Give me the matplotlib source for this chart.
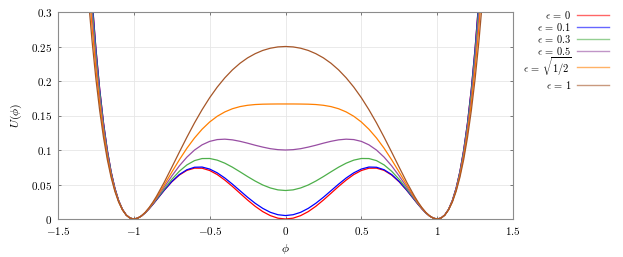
import numpy as np
import matplotlib
matplotlib.use("Agg")
import matplotlib.pyplot as plt
from matplotlib.lines import Line2D
from matplotlib.ticker import FuncFormatter

plt.rcParams['mathtext.fontset'] = 'cm'
plt.rcParams['font.family'] = 'serif'
plt.rcParams['font.serif'] = ['DejaVu Serif']

# sample positions along phi (denser near the minima / steep walls)
phi = [-1.3, -1.275, -1.25, -1.225, -1.2, -1.175, -1.15, -1.125, -1.1, -1.075, -1.05, -1.025, -1.0,
       -0.975, -0.95, -0.925, -0.9, -0.875, -0.85, -0.8, -0.75, -0.7, -0.65, -0.6, -0.55, -0.5, -0.45,
       -0.4, -0.35, -0.3, -0.25, -0.2, -0.15, -0.1, -0.05,
       0.0,
       0.05, 0.1, 0.15, 0.2, 0.25, 0.3, 0.35, 0.4, 0.45, 0.5, 0.55, 0.6, 0.65, 0.7, 0.75, 0.8, 0.85,
       0.875, 0.9, 0.925, 0.95, 0.975, 1.0, 1.025, 1.05, 1.075, 1.1, 1.125, 1.15, 1.175, 1.2, 1.225,
       1.25, 1.275, 1.3]

# U(phi), one list per epsilon
u_eps0 = [0.4023, 0.3181, 0.2472, 0.1880, 0.1394, 0.1000, 0.0688, 0.0446, 0.0267, 0.0140, 0.0058, 0.0013, 0.0000,
          0.0012, 0.0043, 0.0089, 0.0146, 0.0210, 0.0278, 0.0415, 0.0538, 0.0637, 0.0705, 0.0737, 0.0736, 0.0703,
          0.0644, 0.0564, 0.0472, 0.0373, 0.0275, 0.0184, 0.0107, 0.0049, 0.0012,
          0.0000,
          0.0012, 0.0049, 0.0107, 0.0184, 0.0275, 0.0373, 0.0472, 0.0564, 0.0644, 0.0703, 0.0736, 0.0737, 0.0705,
          0.0637, 0.0538, 0.0415, 0.0278, 0.0210, 0.0146, 0.0089, 0.0043, 0.0012, 0.0000, 0.0013, 0.0058, 0.0140,
          0.0267, 0.0446, 0.0688, 0.1000, 0.1394, 0.1880, 0.2472, 0.3181, 0.4023]
u_eps01 = [0.4007, 0.3169, 0.2463, 0.1874, 0.1390, 0.0997, 0.0686, 0.0446, 0.0266, 0.0140, 0.0058, 0.0013, 0.0000,
           0.0012, 0.0043, 0.0089, 0.0147, 0.0211, 0.0279, 0.0417, 0.0542, 0.0644, 0.0714, 0.0750, 0.0753, 0.0724,
           0.0669, 0.0594, 0.0505, 0.0410, 0.0315, 0.0228, 0.0154, 0.0097, 0.0062,
           0.0050,
           0.0062, 0.0097, 0.0154, 0.0228, 0.0315, 0.0410, 0.0505, 0.0594, 0.0669, 0.0724, 0.0753, 0.0750, 0.0714,
           0.0644, 0.0542, 0.0417, 0.0279, 0.0211, 0.0147, 0.0089, 0.0043, 0.0012, 0.0000, 0.0013, 0.0058, 0.0140,
           0.0266, 0.0446, 0.0686, 0.0997, 0.1390, 0.1874, 0.2463, 0.3169, 0.4007]
u_eps03 = [0.3887, 0.3080, 0.2398, 0.1829, 0.1359, 0.0977, 0.0674, 0.0439, 0.0263, 0.0138, 0.0057, 0.0013, 0.0000,
           0.0012, 0.0043, 0.0090, 0.0149, 0.0216, 0.0287, 0.0434, 0.0573, 0.0692, 0.0784, 0.0846, 0.0876, 0.0877,
           0.0853, 0.0809, 0.0751, 0.0684, 0.0615, 0.0550, 0.0493, 0.0450, 0.0422,
           0.0413,
           0.0422, 0.0450, 0.0493, 0.0550, 0.0615, 0.0684, 0.0751, 0.0809, 0.0853, 0.0877, 0.0876, 0.0846, 0.0784,
           0.0692, 0.0573, 0.0434, 0.0287, 0.0216, 0.0149, 0.0090, 0.0043, 0.0012, 0.0000, 0.0013, 0.0057, 0.0138,
           0.0263, 0.0439, 0.0674, 0.0977, 0.1359, 0.1829, 0.2398, 0.3080, 0.3887]
u_eps05 = [0.3695, 0.2937, 0.2294, 0.1755, 0.1309, 0.0945, 0.0654, 0.0428, 0.0258, 0.0136, 0.0057, 0.0013, 0.0000,
           0.0012, 0.0044, 0.0092, 0.0153, 0.0223, 0.0300, 0.0461, 0.0622, 0.0770, 0.0897, 0.0999, 0.1075, 0.1125,
           0.1151, 0.1157, 0.1147, 0.1126, 0.1099, 0.1069, 0.1042, 0.1019, 0.1005,
           0.1000,
           0.1005, 0.1019, 0.1042, 0.1069, 0.1099, 0.1126, 0.1147, 0.1157, 0.1151, 0.1125, 0.1075, 0.0999, 0.0897,
           0.0770, 0.0622, 0.0461, 0.0300, 0.0223, 0.0153, 0.0092, 0.0044, 0.0012, 0.0000, 0.0013, 0.0057, 0.0136,
           0.0258, 0.0428, 0.0654, 0.0945, 0.1309, 0.1755, 0.2294, 0.2937, 0.3695]
u_epssq = [0.3476, 0.2773, 0.2175, 0.1671, 0.1252, 0.0908, 0.0632, 0.0415, 0.0251, 0.0134, 0.0056, 0.0013, 0.0000,
           0.0012, 0.0044, 0.0094, 0.0158, 0.0232, 0.0314, 0.0492, 0.0678, 0.0858, 0.1026, 0.1174, 0.1301, 0.1406,
           0.1489, 0.1552, 0.1598, 0.1629, 0.1648, 0.1659, 0.1664, 0.1666, 0.1667,
           0.1667,
           0.1667, 0.1666, 0.1664, 0.1659, 0.1648, 0.1629, 0.1598, 0.1552, 0.1489, 0.1406, 0.1301, 0.1174, 0.1026,
           0.0858, 0.0678, 0.0492, 0.0314, 0.0232, 0.0158, 0.0094, 0.0044, 0.0012, 0.0000, 0.0013, 0.0056, 0.0134,
           0.0251, 0.0415, 0.0632, 0.0908, 0.1252, 0.1671, 0.2175, 0.2773, 0.3476]
u_eps1 = [0.3202, 0.2569, 0.2027, 0.1567, 0.1181, 0.0862, 0.0604, 0.0400, 0.0244, 0.0131, 0.0055, 0.0013, 0.0000,
          0.0012, 0.0045, 0.0097, 0.0163, 0.0242, 0.0332, 0.0531, 0.0748, 0.0969, 0.1186, 0.1393, 0.1584, 0.1758,
          0.1912, 0.2046, 0.2161, 0.2257, 0.2335, 0.2396, 0.2443, 0.2475, 0.2494,
          0.2500,
          0.2494, 0.2475, 0.2443, 0.2396, 0.2335, 0.2257, 0.2161, 0.2046, 0.1912, 0.1758, 0.1584, 0.1393, 0.1186,
          0.0969, 0.0748, 0.0531, 0.0332, 0.0242, 0.0163, 0.0097, 0.0045, 0.0012, 0.0000, 0.0013, 0.0055, 0.0131,
          0.0244, 0.0400, 0.0604, 0.0862, 0.1181, 0.1567, 0.2027, 0.2569, 0.3202]

series = [u_eps0, u_eps01, u_eps03, u_eps05, u_epssq, u_eps1]
labels = [r'$\epsilon\,=\,0$', r'$\epsilon\,=\,0.1$', r'$\epsilon\,=\,0.3$', r'$\epsilon\,=\,0.5$',
          r'$\epsilon\,=\,\sqrt{1/2}$', r'$\epsilon\,=\,1$']
colors = ['#ff0000', '#0000ff', '#4daf4a', '#984ea3', '#ff7f00', '#a65628']
key_rows = [15, 27, 39, 51, 67, 85]   # pixel rows of the key entries (sqrt row needs more room)

W, H = 623, 257
fig = plt.figure(figsize=(W/100, H/100), dpi=100)
ax = fig.add_axes([58/W, 38/H, 455/W, 207/H])

for u, c in zip(series, colors):
    ax.plot(phi, u, color=c, lw=0.9)

ax.set_xlim(-1.5, 1.5)
ax.set_ylim(0, 0.3)
ax.set_xticks([-1.5, -1, -0.5, 0, 0.5, 1, 1.5])
ax.set_yticks([0, 0.05, 0.1, 0.15, 0.2, 0.25, 0.3])
fmt = FuncFormatter(lambda v, pos: r'$%g$' % v)
ax.xaxis.set_major_formatter(fmt)
ax.yaxis.set_major_formatter(fmt)
ax.tick_params(direction='in', length=2, width=0.6, color='#666666', labelsize=8,
               top=True, right=True, pad=4)
ax.grid(True, color='#e6e6e6', lw=0.6)
ax.set_axisbelow(True)
for s in ax.spines.values():
    s.set_color('#8c8c8c')
    s.set_linewidth(0.8)

ax.set_xlabel(r'$\phi$', fontsize=8.5, labelpad=4)
ax.set_ylabel(r'$U(\phi)$', fontsize=8.5, labelpad=5)

# key on the right
for lab, c, r in zip(labels, colors, key_rows):
    yy = 1 - r / H
    fig.text(571/W, yy, lab, ha='right', va='center', fontsize=7.5)
    fig.add_artist(Line2D([577/W, 609/W], [yy, yy], color=c, lw=1.0, alpha=0.6,
                          transform=fig.transFigure))

plt.savefig("out.png", dpi=100)
